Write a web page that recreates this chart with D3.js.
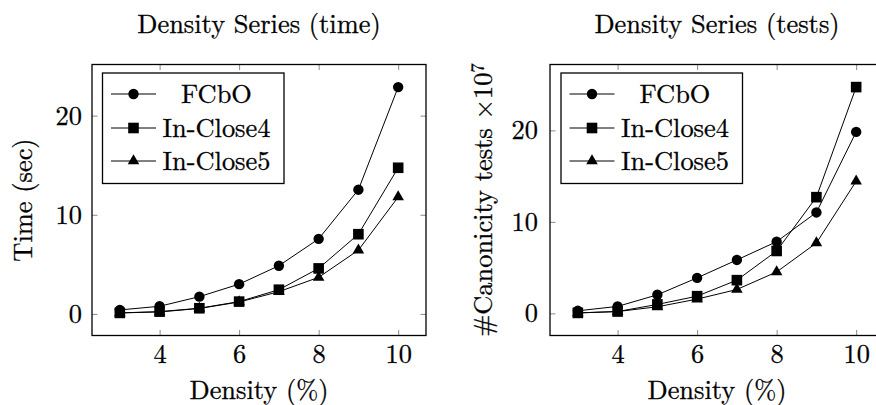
<!DOCTYPE html>
<html>
<head>
<meta charset="utf-8">
<script src="https://cdn.jsdelivr.net/npm/d3@7"></script>
<style>
  html, body { margin: 0; padding: 0; background: #fff; }
  svg { display: block; }
</style>
</head>
<body>
<svg id="chart" width="876" height="405"></svg>
<script>
// ---- data ----
const densities = [3, 4, 5, 6, 7, 8, 9, 10];
const seriesNames = ["FCbO", "In-Close4", "In-Close5"];
const timeFCbO = [0.40, 0.77, 1.74, 3.00, 4.86, 7.57, 12.53, 22.88];
const timeInClose4 = [0.10, 0.23, 0.57, 1.24, 2.44, 4.59, 8.04, 14.74];
const timeInClose5 = [0.10, 0.20, 0.55, 1.20, 2.24, 3.69, 6.43, 11.79];
const testsFCbO = [0.28, 0.76, 2.03, 3.88, 5.84, 7.84, 11.03, 19.83];
const testsInClose4 = [0.05, 0.20, 0.98, 1.88, 3.63, 6.82, 12.70, 24.73];
const testsInClose5 = [0.05, 0.20, 0.72, 1.56, 2.61, 4.53, 7.69, 14.44];
const xTicks = [4, 6, 8, 10];
const yTicks = [0, 10, 20];
const titles = ["Density Series (time)", "Density Series (tests)"];
const xLabel = "Density (%)";

const FAMILY = "'Latin Modern Roman', 'CMU Serif', 'Liberation Serif', serif";
const FONT = 26.4;
const svg = d3.select("#chart").attr("font-family", FAMILY);

function styleText(sel, size) {
  return sel.attr("font-family", FAMILY).attr("font-size", size)
    .style("font-family", FAMILY).style("font-size", size + "px")
    .attr("fill", "#000").attr("stroke", "#000").attr("stroke-width", 0.3);
}

const panels = [
  { x0: 92, x1: 426, title: titles[0], series: [timeFCbO, timeInClose4, timeInClose5], ylabel: "time", tickEnd: 82, ylabX: 31.5, legendX: 102.5 },
  { x0: 550, x1: 884, title: titles[1], series: [testsFCbO, testsInClose4, testsInClose5], ylabel: "tests", tickEnd: 538, ylabX: 491.5, legendX: 561 }
];
const yTop = 64.5, yBot = 335.5;

function marker(g, kind, cx, cy) {
  if (kind === 0) {
    g.append("circle").attr("cx", cx).attr("cy", cy).attr("r", 5.2).attr("fill", "#000");
  } else if (kind === 1) {
    g.append("rect").attr("x", cx - 5.3).attr("y", cy - 5.3).attr("width", 10.6).attr("height", 10.6).attr("fill", "#000");
  } else {
    g.append("path").attr("transform", `translate(${cx},${cy})`)
      .attr("d", d3.symbol(d3.symbolTriangle, 58)()).attr("fill", "#000");
  }
}

panels.forEach(p => {
  const g = svg.append("g");
  const all = p.series.flat();
  const lo = d3.min(all), hi = d3.max(all), pad = (hi - lo) * 0.1;
  const xExt = d3.extent(densities), xPad = (xExt[1] - xExt[0]) * 0.1;
  const x = d3.scaleLinear().domain([xExt[0] - xPad, xExt[1] + xPad]).range([p.x0, p.x1]);
  const y = d3.scaleLinear().domain([lo - pad, hi + pad]).range([yBot, yTop]);

  const tickStyle = sel => {
    sel.attr("font-family", FAMILY).attr("font-size", FONT);
    sel.select(".domain").remove();
    sel.selectAll(".tick line").attr("stroke", "#8a8a8a").attr("stroke-width", 1);
  };
  const bottom = g.append("g").attr("transform", `translate(0,${yBot})`)
    .call(d3.axisBottom(x).tickValues(xTicks).tickSizeInner(-5.5).tickSizeOuter(0).tickPadding(0));
  tickStyle(bottom);
  styleText(bottom.selectAll(".tick text").attr("y", 27.5).attr("dy", null), FONT);
  const top = g.append("g").attr("transform", `translate(0,${yTop})`)
    .call(d3.axisTop(x).tickValues(xTicks).tickSizeInner(-5.5).tickSizeOuter(0).tickFormat(""));
  tickStyle(top);
  const left = g.append("g").attr("transform", `translate(${p.x0},0)`)
    .call(d3.axisLeft(y).tickValues(yTicks).tickSizeInner(-5.5).tickSizeOuter(0).tickPadding(0));
  tickStyle(left);
  styleText(left.selectAll(".tick text").attr("x", p.tickEnd - p.x0).attr("dy", "0.32em"), FONT);
  const right = g.append("g").attr("transform", `translate(${p.x1},0)`)
    .call(d3.axisRight(y).tickValues(yTicks).tickSizeInner(-5.5).tickSizeOuter(0).tickFormat(""));
  tickStyle(right);

  g.append("rect").attr("x", p.x0).attr("y", yTop).attr("width", p.x1 - p.x0).attr("height", yBot - yTop)
    .attr("fill", "none").attr("stroke", "#000").attr("stroke-width", 1.3);

  const line = d3.line().x((d, i) => x(densities[i])).y(d => y(d));
  p.series.forEach(vals => {
    g.append("path").datum(vals).attr("d", line).attr("fill", "none").attr("stroke", "#000").attr("stroke-width", 1);
  });
  p.series.forEach((vals, k) => {
    vals.forEach((v, i) => marker(g, k, x(densities[i]), y(v)));
  });

  const lg = g.append("g");
  const lx = p.legendX, ly = 73, lw = 181.5, lh = 110.5;
  lg.append("rect").attr("x", lx).attr("y", ly).attr("width", lw).attr("height", lh)
    .attr("fill", "#fff").attr("stroke", "#000").attr("stroke-width", 1.3);
  const rows = [94, 128, 161];
  seriesNames.forEach((name, k) => {
    const ry = rows[k];
    lg.append("line").attr("x1", lx + 8.5).attr("x2", lx + 53.5).attr("y1", ry).attr("y2", ry)
      .attr("stroke", "#000").attr("stroke-width", 1);
    marker(lg, k, lx + 31, ry);
    styleText(lg.append("text").attr("x", lx + 114).attr("y", ry + 9).attr("text-anchor", "middle"), FONT).text(name);
  });

  styleText(g.append("text").attr("x", (p.x0 + p.x1) / 2).attr("y", 33).attr("text-anchor", "middle"), FONT).text(p.title);
  styleText(g.append("text").attr("x", (p.x0 + p.x1) / 2).attr("y", 399).attr("text-anchor", "middle"), FONT).text(xLabel);
  const yl = styleText(g.append("text").attr("transform", `translate(${p.ylabX},200) rotate(-90)`)
    .attr("text-anchor", "middle"), FONT);
  if (p.ylabel === "time") {
    yl.text("Time (sec)");
  } else {
    yl.append("tspan").text("#Canonicity tests ×10");
    yl.append("tspan").attr("dy", "-0.42em").attr("font-size", 18.5).style("font-size", "18.5px").text("7");
  }
});
</script>
</body>
</html>
